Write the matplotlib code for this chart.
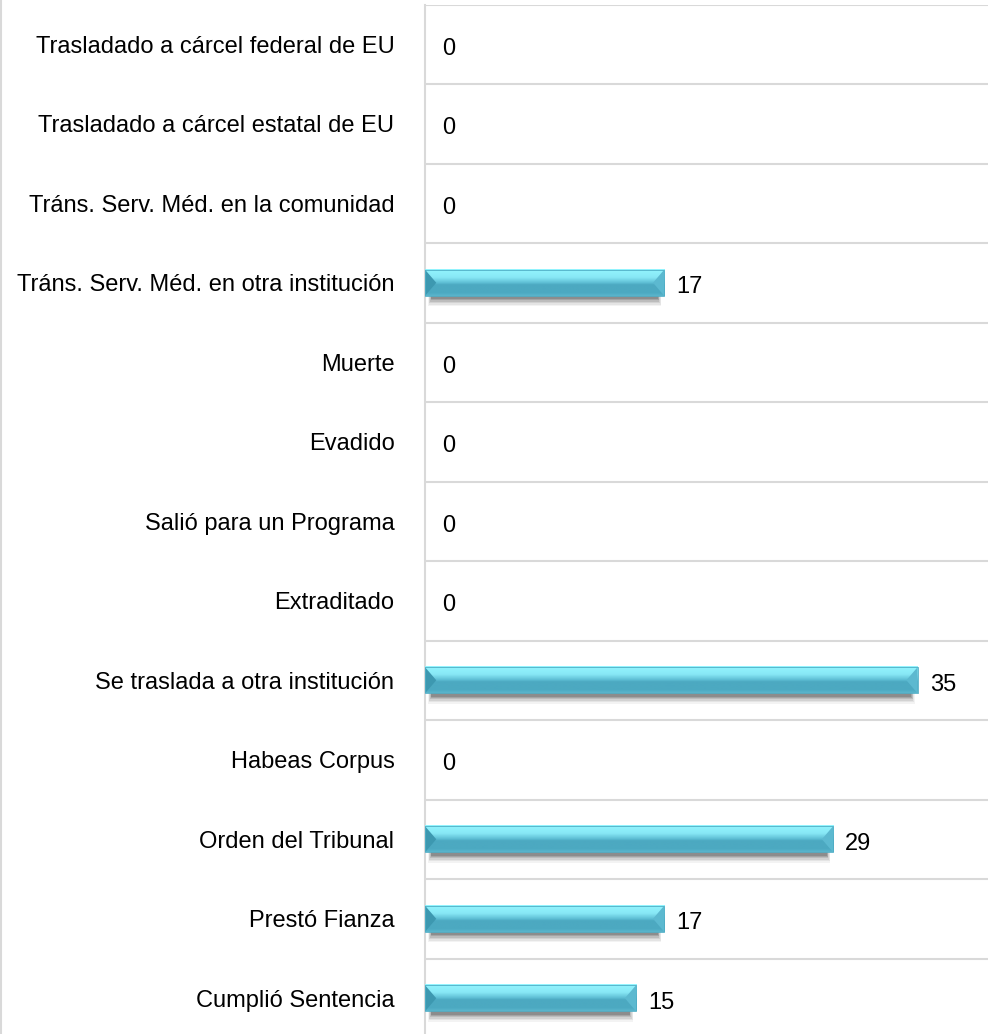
import matplotlib
matplotlib.use("Agg")
import matplotlib.pyplot as plt
from matplotlib.patches import Polygon, Rectangle
from matplotlib.lines import Line2D
from matplotlib.colors import to_rgb
import numpy as np

categories = [
    "Trasladado a cárcel federal de EU",
    "Trasladado a cárcel estatal de EU",
    "Tráns. Serv. Méd. en la comunidad",
    "Tráns. Serv. Méd. en otra institución",
    "Muerte",
    "Evadido",
    "Salió para un Programa",
    "Extraditado",
    "Se traslada a otra institución",
    "Habeas Corpus",
    "Orden del Tribunal",
    "Prestó Fianza",
    "Cumplió Sentencia",
]
values = [0, 0, 0, 17, 0, 0, 0, 0, 35, 0, 29, 17, 15]

plt.rcParams['font.family'] = ['Liberation Sans', 'DejaVu Sans']

W, H = 991, 1034
fig = plt.figure(figsize=(W / 100, H / 100), dpi=100)
top_px, bot_px = 4.5, 1038
ax = fig.add_axes([425 / W, 1 - bot_px / H, (988 - 425) / W, (bot_px - top_px) / H])

n = len(categories)
ypos = np.arange(n)

# vertical colour profile of the bevelled bar (top -> bottom)
stops = [(0.0, "#93F4FE"), (0.30, "#88E8F6"), (0.50, "#60C0D6"),
         (0.58, "#4CA9C1"), (0.88, "#4CA9C1"), (1.0, "#5AB5CC")]
N = 64
pos = np.linspace(0, 1, N)
cols = np.array([to_rgb(c) for _, c in stops])
sp = np.array([p for p, _ in stops])
grad = np.stack([np.interp(pos, sp, cols[:, i]) for i in range(3)], axis=1)
grad = grad[:, None, :]

h = 0.33
d = 0.8          # bevel width in data units
for y, v in zip(ypos, values):
    if v <= 0:
        continue
    t, b = y - h / 2, y + h / 2
    m = y
    # soft drop shadow
    for k, a in enumerate([0.05, 0.07, 0.09, 0.12, 0.15, 0.18]):
        off = 0.13 - k * 0.018
        ax.add_patch(Rectangle((0.2 + k * 0.05, t + off), v - 0.4 - k * 0.1, h,
                               facecolor="#202020", alpha=a, edgecolor="none", zorder=2))
    # body with gradient
    ax.imshow(grad, extent=(0, v, b, t), origin="upper", aspect="auto",
              interpolation="bilinear", zorder=3)
    # left end (dark triangle)
    ax.add_patch(Polygon([(0, t), (d, m), (0, b)], closed=True,
                         facecolor="#3D98B0", edgecolor="none", zorder=4))
    # right end (lighter triangle)
    ax.add_patch(Polygon([(v, t), (v - d, m), (v, b)], closed=True,
                         facecolor="#5CB9D0", edgecolor="none", zorder=4))
    ax.add_patch(Rectangle((0, t), v, h, facecolor="none", edgecolor="#50AEC6",
                           linewidth=0.6, zorder=5))

ax.set_xlim(0, 40)
ax.set_ylim(n - 0.5, -0.5)

for y, v in zip(ypos, values):
    ax.annotate(str(v), xy=(v, y), xytext=(12 if v > 0 else 17, -2),
                textcoords="offset pixels", va="center_baseline", ha="left",
                fontsize=17, color="#000000", zorder=6)

ax.set_yticks(ypos)
ax.set_yticklabels(categories, fontsize=17, color="#000000")
ax.tick_params(axis="y", length=0, pad=22)
ax.set_xticks([])
ax.set_yticks(np.arange(-0.5, n, 1.0), minor=True)
ax.tick_params(axis="y", which="minor", length=0)
ax.grid(axis="y", which="minor", color="#D9D9D9", linewidth=1.5)
ax.set_axisbelow(True)
for s in ["top", "right", "bottom"]:
    ax.spines[s].set_visible(False)
ax.spines["left"].set_color("#D9D9D9")
ax.spines["left"].set_linewidth(1.5)

fig.add_artist(Line2D([0.6 / W, 0.6 / W], [0, 1], transform=fig.transFigure,
                      color="#D9D9D9", linewidth=1.5))

fig.savefig("out.png", dpi=100)
